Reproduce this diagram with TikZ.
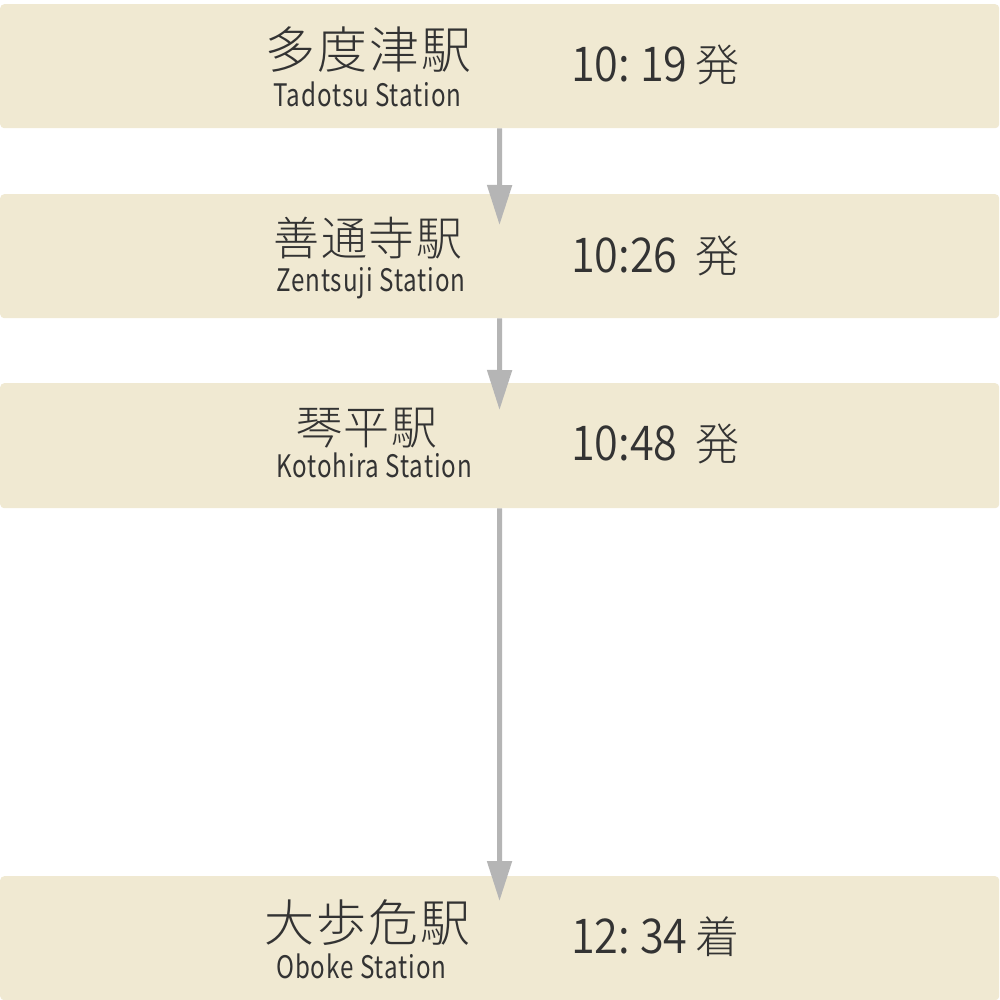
\documentclass[tikz,border=0pt]{standalone}
\usepackage{fontspec}
\usetikzlibrary{arrows.meta}
\newfontfamily\jpf[LetterSpace=4]{Noto Sans CJK JP Light}
\newfontfamily\jpplain{Noto Sans CJK JP Light}
\newfontfamily\condf[FakeStretch=0.78,LetterSpace=3]{Noto Sans CJK JP}
\newfontfamily\timef[FakeStretch=0.9]{Noto Sans CJK JP DemiLight}
\definecolor{boxfill}{RGB}{240,233,210}
\definecolor{txt}{RGB}{51,51,51}
\definecolor{arr}{RGB}{181,181,181}
\tikzset{
  stationbox/.style={draw=none, fill=boxfill, rounded corners=4pt, minimum width=999pt, minimum height=124pt, inner sep=0pt, anchor=north west},
  jpbig/.style={inner sep=0pt, text=txt, font=\jpf\fontsize{50}{60}\selectfont},
  jpsmall/.style={inner sep=0pt, text=txt, font=\jpf\fontsize{46}{55}\selectfont},
  latin/.style={inner sep=0pt, text=txt, anchor=base west, font=\condf\fontsize{31}{36}\selectfont},
  timetxt/.style={inner sep=0pt, text=txt, anchor=base west, font=\timef\fontsize{48}{58}\selectfont},
  kanjitxt/.style={inner sep=0pt, text=txt, anchor=base west, font=\jpplain\fontsize{44}{52}\selectfont},
  flow/.style={draw=arr, line width=5pt, -{Triangle[length=40pt,width=24pt]}}
}
\begin{document}
\begin{tikzpicture}[x=1pt,y=-1pt]
\useasboundingbox (0,0) rectangle (1000,1000);
\fill[white] (0,0) rectangle (1000,1000);
% boxes
\node[stationbox] (b1) at (0,4) {};
\node[stationbox] (b2) at (0,194) {};
\node[stationbox, minimum height=125pt] (b3) at (0,383) {};
\node[stationbox] (b4) at (0,876) {};
% arrow tips
\coordinate (t2) at (499.5,225);
\coordinate (t3) at (499.5,410);
\coordinate (t4) at (499.5,901);
\draw[flow] (b1.south) -- (t2);
\draw[flow] (b2.south) -- (t3);
\draw[flow] (b3.south) -- (t4);
% box 1
\node[jpbig] (n1) at (368,49.5) {多度津駅};
\node[latin] (l1) at (273,107) {Tadotsu Station};
\node[timetxt] (d1) at (571,82) {10:\hspace{10pt}19};
\node[kanjitxt] (k1) at (695,82) {発};
% box 2
\node[jpsmall] (n2) at (368,238) {善通寺駅};
\node[latin] (l2) at (276,291) {Zentsuji Station};
\node[timetxt] (d2) at (571,272) {10:26};
\node[kanjitxt] (k2) at (695,272) {発};
% box 3
\node[jpsmall] (n3) at (367,428) {琴平駅};
\node[latin] (l3) at (276,477) {Kotohira Station};
\node[timetxt] (d3) at (571,460) {10:48};
\node[kanjitxt] (k3) at (695,460) {発};
% box 4
\node[jpbig] (n4) at (367,922.5) {大歩危駅};
\node[latin] (l4) at (276,978) {Oboke Station};
\node[timetxt] (d4) at (571,953) {12:\hspace{10pt}34};
\node[kanjitxt] (k4) at (695,953) {着};
\end{tikzpicture}
\end{document}
